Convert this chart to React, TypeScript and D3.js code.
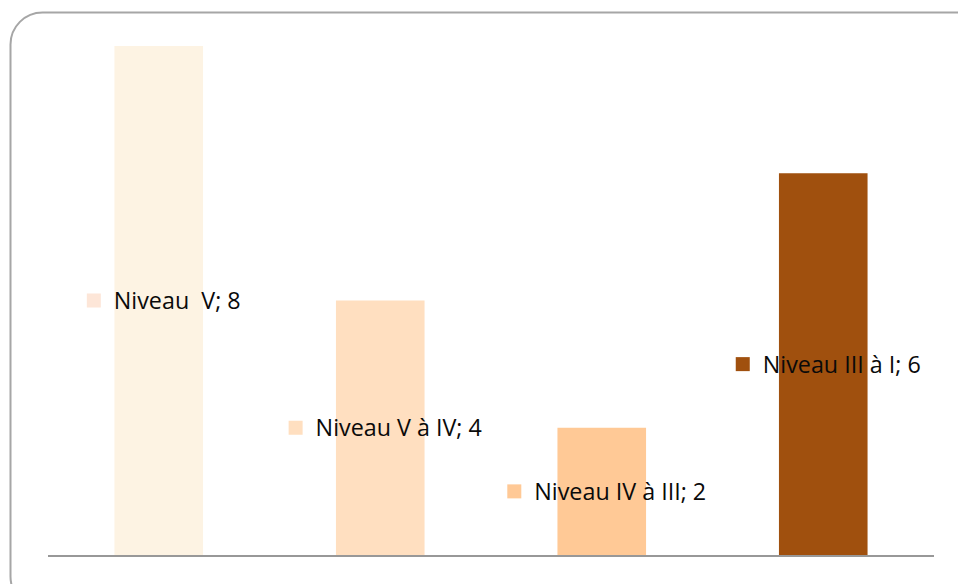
import React, { useLayoutEffect, useRef, useState } from "react";
import * as d3 from "d3";

// Données du graphique
const categories = ["Niveau  V", "Niveau V à IV", "Niveau IV à III", "Niveau III à I"];
const values = [8, 4, 2, 6];
const barColors = ["#fdf3e3", "#ffdfc0", "#ffc996", "#a0500e"];
const keyColors = ["#fde6d8", "#ffdfc0", "#ffc996", "#a0500e"];

const W = 958;
const H = 584;
const M = { left: 48, right: 24, top: 46, bottom: 29 };

const App: React.FC = () => {
  const textRefs = useRef<(SVGTextElement | null)[]>([]);
  const [widths, setWidths] = useState<number[]>(categories.map(() => 120));

  useLayoutEffect(() => {
    setWidths(textRefs.current.map((t) => (t ? t.getComputedTextLength() : 120)));
  }, []);

  const x = d3.scaleBand<string>()
    .domain(categories)
    .range([M.left, W - M.right])
    .paddingInner(0.6)
    .paddingOuter(0.3);

  const y = d3.scaleLinear()
    .domain([0, d3.max(values)!])
    .range([H - M.bottom, M.top]);

  const font = "'Open Sans', Lato, sans-serif";

  return (
    <svg width={W} height={H} style={{ position: "absolute", left: 0, top: 0, background: "#fff" }}>
      {/* Cadre arrondi */}
      <rect x={10.5} y={12.5} width={990} height={596} rx={32} ry={32}
        fill="#fff" stroke="#a6a6a6" strokeWidth={2} />

      {/* Barres */}
      {categories.map((c, i) => (
        <rect key={c} x={x(c)!} y={y(values[i])} width={x.bandwidth()}
          height={y(0) - y(values[i])} fill={barColors[i]} />
      ))}

      {/* Axe horizontal */}
      <line x1={M.left} x2={W - M.right} y1={y(0) + 1} y2={y(0) + 1}
        stroke="#989898" strokeWidth={2} />

      {/* Étiquettes de données */}
      {categories.map((c, i) => {
        const cx = x(c)! + x.bandwidth() / 2 + 5;
        const cy = (y(values[i]) + y(0)) / 2;
        const sq = 14;
        const gap = 13;
        const total = sq + gap + widths[i];
        const left = cx - total / 2;
        return (
          <g key={c}>
            <rect x={left} y={cy - 7} width={sq} height={sq} fill={keyColors[i]} />
            <text
              ref={(el) => { textRefs.current[i] = el; }}
              x={left + sq + gap} y={cy} dy="0.36em"
              fontFamily={font} fontSize={23.3} fill="#0a0a0a" style={{ whiteSpace: "pre" }}>
              {`${c}; ${values[i]}`}
            </text>
          </g>
        );
      })}
    </svg>
  );
};

export default App;
